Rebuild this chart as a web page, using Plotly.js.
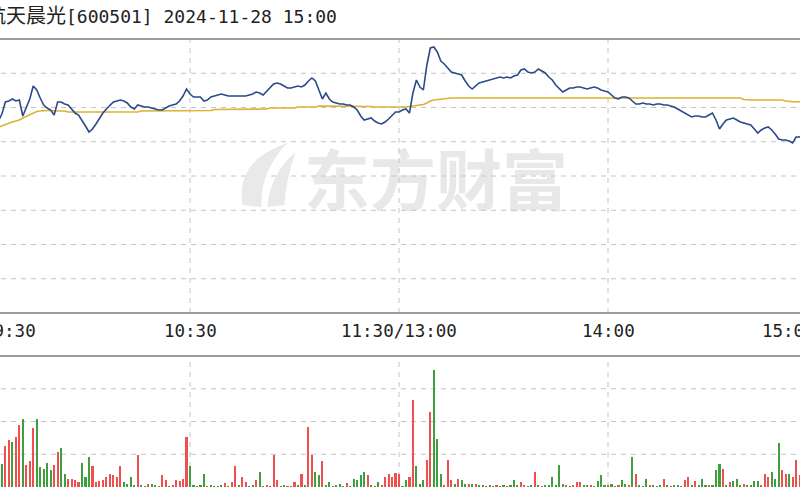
<!DOCTYPE html>
<html><head><meta charset="utf-8">
<script src="https://cdn.plot.ly/plotly-3.0.1.min.js"></script>
<style>
html,body{margin:0;padding:0;overflow:hidden;background:#fff;width:800px;height:500px;}
#chart{position:absolute;left:-19px;top:0;width:836px;height:500px;}
</style></head><body><div id="chart"></div>
<script>
// ---- data ----
const stockName = '航天晨光';
const stockCode = '600501';
const stampText = '2024-11-28 15:00';
const tickLabels = ['09:30', '10:30', '11:30/13:00', '14:00', '15:00'];
const tickMinutes = [0, 60, 120, 180, 240];
const gridMinutes = [60, 120, 180];
const priceRange = [9.37, 12.11];
const volRange = [0, 13100];

// last price per minute (09:30 .. 15:00, 241 points)
const price = [
11.15,11.20,11.22,11.26,11.28,11.29,11.36,11.48,11.49,11.51,
11.49,11.50,11.34,11.42,11.51,11.64,11.60,11.52,11.45,11.42,
11.40,11.35,11.48,11.48,11.46,11.45,11.41,11.37,11.35,11.30,
11.24,11.18,11.21,11.26,11.32,11.37,11.41,11.45,11.48,11.49,
11.50,11.49,11.47,11.43,11.41,11.45,11.44,11.43,11.43,11.42,
11.41,11.40,11.40,11.42,11.44,11.45,11.46,11.49,11.54,11.61,
11.56,11.53,11.53,11.53,11.49,11.50,11.53,11.54,11.55,11.56,
11.55,11.54,11.54,11.54,11.54,11.54,11.54,11.55,11.56,11.58,
11.57,11.55,11.59,11.62,11.66,11.67,11.66,11.64,11.62,11.62,
11.63,11.64,11.63,11.65,11.69,11.72,11.69,11.60,11.51,11.57,
11.51,11.48,11.47,11.46,11.46,11.45,11.45,11.43,11.40,11.34,
11.30,11.31,11.32,11.29,11.27,11.26,11.28,11.31,11.35,11.38,
11.38,11.40,11.41,11.37,11.57,11.70,11.63,11.60,11.85,12.02,
12.03,11.98,11.89,11.86,11.82,11.78,11.77,11.76,11.75,11.69,
11.64,11.61,11.64,11.67,11.68,11.69,11.70,11.71,11.72,11.73,
11.72,11.73,11.72,11.74,11.75,11.80,11.81,11.78,11.77,11.78,
11.81,11.79,11.77,11.73,11.70,11.65,11.61,11.58,11.60,11.62,
11.62,11.63,11.63,11.62,11.61,11.62,11.63,11.62,11.60,11.59,
11.58,11.55,11.52,11.51,11.53,11.53,11.52,11.49,11.46,11.46,
11.47,11.46,11.46,11.45,11.46,11.46,11.45,11.45,11.44,11.43,
11.41,11.39,11.37,11.35,11.33,11.34,11.34,11.33,11.33,11.35,
11.37,11.30,11.21,11.26,11.30,11.31,11.32,11.30,11.28,11.27,
11.26,11.25,11.21,11.17,11.20,11.22,11.23,11.20,11.16,11.11,
11.10,11.10,11.09,11.07,11.13,11.13,11.15,11.12,11.10,11.11,
11.11
];

// average price per minute
const avgPrice = [
11.15,11.17,11.19,11.205,11.215,11.225,11.24,11.255,11.27,11.28,
11.29,11.30,11.32,11.335,11.35,11.37,11.385,11.39,11.395,11.395,
11.395,11.39,11.39,11.39,11.39,11.38,11.38,11.38,11.38,11.38,
11.38,11.38,11.38,11.38,11.38,11.38,11.38,11.38,11.38,11.38,
11.38,11.38,11.38,11.38,11.38,11.38,11.39,11.39,11.39,11.39,
11.39,11.39,11.39,11.39,11.39,11.39,11.39,11.39,11.39,11.39,
11.39,11.395,11.395,11.395,11.395,11.395,11.395,11.405,11.405,11.405,
11.405,11.405,11.405,11.41,11.41,11.41,11.41,11.41,11.41,11.41,
11.41,11.41,11.41,11.42,11.42,11.42,11.42,11.42,11.42,11.42,
11.42,11.43,11.43,11.43,11.43,11.43,11.43,11.44,11.44,11.44,
11.44,11.44,11.44,11.44,11.44,11.435,11.435,11.435,11.435,11.435,
11.435,11.435,11.435,11.43,11.43,11.43,11.43,11.43,11.43,11.43,
11.43,11.425,11.43,11.435,11.44,11.445,11.45,11.455,11.47,11.49,
11.50,11.505,11.51,11.515,11.52,11.52,11.52,11.52,11.52,11.52,
11.52,11.52,11.52,11.52,11.52,11.52,11.525,11.525,11.525,11.525,
11.525,11.525,11.525,11.525,11.525,11.525,11.525,11.525,11.525,11.525,
11.525,11.525,11.525,11.525,11.525,11.525,11.525,11.525,11.525,11.525,
11.525,11.525,11.525,11.525,11.525,11.525,11.525,11.525,11.525,11.525,
11.525,11.525,11.525,11.525,11.525,11.525,11.525,11.525,11.525,11.525,
11.525,11.525,11.525,11.525,11.525,11.525,11.525,11.525,11.525,11.525,
11.52,11.52,11.52,11.52,11.52,11.52,11.52,11.52,11.52,11.52,
11.52,11.52,11.52,11.52,11.52,11.52,11.52,11.52,11.52,11.505,
11.50,11.50,11.50,11.50,11.50,11.50,11.50,11.50,11.50,11.50,
11.50,11.49,11.485,11.483,11.483,11.483,11.483,11.483,11.483,11.483,
11.483
];

// volume per minute (lots)
const volume = [
9000,5200,4400,3800,4600,3500,2300,4100,4700,4500,
5000,6200,6800,2200,2600,5900,6800,2000,1800,2400,
1700,2200,3500,3900,1300,800,800,700,500,2400,
1000,3000,2100,500,600,700,1000,1300,1200,1000,
2100,500,300,1000,200,3200,200,150,300,300,
200,150,1200,700,150,200,700,600,800,5000,
2100,200,150,200,1300,150,200,150,150,200,
400,150,500,2100,200,1000,500,150,200,700,
1500,150,200,150,3200,700,150,200,150,150,
500,200,1300,200,6000,3200,1500,1200,2600,200,
500,150,200,300,150,400,150,800,700,1200,
1500,1200,200,150,500,200,1000,1300,1000,1400,
1300,150,700,1000,8700,2100,300,700,2700,7500,
11700,4800,1300,200,2700,700,300,800,700,300,
350,300,300,250,170,150,170,150,170,150,
170,150,200,700,200,500,200,150,200,1500,
200,150,200,250,1000,200,2200,300,200,150,
200,500,500,200,250,200,150,600,1200,250,
200,300,150,250,700,350,200,3000,1300,200,
150,800,250,200,150,200,800,200,150,250,
200,150,700,1000,250,600,200,800,200,250,
200,1700,2300,1800,250,500,600,800,200,300,
250,200,600,600,200,1300,1000,1500,800,4400,
1700,1300,1300,1000,2700,1200,900,1100,700,500,
4500
];

// 1 = up (red), -1 = down (green)
const volDir = [
1,1,-1,1,-1,1,-1,1,1,-1,
1,1,-1,1,1,1,-1,-1,-1,-1,
-1,1,1,-1,-1,1,1,1,1,-1,
-1,-1,1,1,1,1,1,1,1,1,
1,-1,-1,-1,-1,1,-1,-1,1,-1,
-1,1,1,1,-1,1,1,1,1,1,
-1,-1,1,-1,-1,1,-1,-1,1,-1,
1,-1,1,1,-1,1,1,-1,-1,1,
-1,-1,1,1,1,1,-1,-1,1,-1,
1,-1,1,-1,1,1,-1,-1,1,-1,
-1,1,-1,-1,-1,1,-1,-1,-1,-1,
-1,1,-1,-1,-1,1,1,1,1,1,
1,-1,-1,1,1,-1,-1,-1,1,1,
-1,-1,-1,1,1,1,-1,1,-1,-1,
1,-1,1,-1,-1,1,-1,-1,1,-1,
-1,1,-1,-1,-1,1,1,-1,-1,1,
-1,1,-1,-1,-1,-1,-1,-1,1,-1,
1,1,1,-1,-1,1,-1,-1,-1,-1,
1,-1,-1,1,-1,-1,1,-1,1,-1,
-1,-1,1,-1,-1,-1,1,-1,1,-1,
-1,-1,1,1,-1,1,-1,-1,-1,1,
-1,-1,-1,1,-1,1,-1,-1,-1,1,
-1,-1,-1,-1,1,1,1,-1,-1,-1,
1,1,-1,1,1,1,-1,1,-1,-1,
1
];

// ---- styles ----
const UP = '#ee5050', DOWN = '#3f9f3f';
const GRID = '#c4c4c4';
const BORDER = '#9c9c9c';
const MONO = '"DejaVu Sans Mono", "Noto Sans CJK SC", monospace';
const DASH = '5px,5px';

const traces = [
  {type:'scatter', mode:'lines', y: avgPrice, xaxis:'x', yaxis:'y',
   line:{color:'#dcb234', width:1.6}, hoverinfo:'skip'},
  {type:'scatter', mode:'lines', y: price, xaxis:'x', yaxis:'y',
   line:{color:'#2a4a8a', width:1.6}, hoverinfo:'skip'},
  {type:'bar', y: volume, xaxis:'x', yaxis:'y2', width:0.6,
   marker:{color: volDir.map(d => d > 0 ? UP : DOWN), line:{width:0}}, hoverinfo:'skip'}
];

const annotations = tickLabels.map((t, i) => ({
  xref:'x', yref:'paper', x: tickMinutes[i], y: 0.339,
  xanchor: i === 0 ? 'left' : (i === tickLabels.length - 1 ? 'right' : 'center'),
  yanchor:'middle', text: t, showarrow:false,
  font:{family: MONO, size:17.5, color:'#222'}
}));
annotations.push({
  xref:'paper', yref:'paper', x: 0.003, y: 0.969, xanchor:'left', yanchor:'middle',
  text: '<span style="font-size:20px">' + stockName + '</span>[' + stockCode + '] ' + stampText,
  showarrow:false, font:{family: MONO, size:18, color:'#222'}
});
annotations.push({
  xref:'paper', yref:'paper', x: 0.544, y: 0.648, xanchor:'center', yanchor:'middle',
  text:'<b>东方财富</b>', showarrow:false,
  font:{family:'"Noto Sans CJK SC", sans-serif', size:66, color:'rgba(205,205,205,0.45)'}
});

function hline(yp) {
  return {type:'line', xref:'paper', yref:'paper', x0:0, x1:1, y0:yp, y1:yp,
          line:{color:BORDER, width:2}, layer:'above'};
}

// dashed grid, placed through the axes' own scales
const gridShapes = [];
gridMinutes.forEach(m => {
  ['y domain', 'y2 domain'].forEach(ref => {
    gridShapes.push({type:'line', xref:'x', yref:ref, x0:m, x1:m, y0:0, y1:1,
                     line:{color:GRID, width:1, dash:DASH}, layer:'below'});
  });
});
const pStep = (priceRange[1] - priceRange[0]) / 8;
for (let k = 1; k < 8; k++) {
  const v = priceRange[0] + k * pStep;
  gridShapes.push({type:'line', xref:'paper', yref:'y', x0:0, x1:1, y0:v, y1:v,
                   line:{color:GRID, width:1, dash:DASH}, layer:'below'});
}
const vStep = (volRange[1] - volRange[0]) / 4;
for (let k = 1; k < 4; k++) {
  const v = volRange[0] + k * vStep;
  gridShapes.push({type:'line', xref:'paper', yref:'y2', x0:0, x1:1, y0:v, y1:v,
                   line:{color:GRID, width:1, dash:DASH}, layer:'below'});
}

const axisCommon = {showticklabels:false, ticks:'', showgrid:false, zeroline:false,
                    showline:false, fixedrange:true};

const layout = {
  width: 836, height: 500,
  margin:{l:0, r:0, t:0, b:0, pad:0},
  paper_bgcolor:'#ffffff', plot_bgcolor:'#ffffff',
  showlegend:false, hovermode:false, bargap:0,
  xaxis:Object.assign({range:[0, 240], anchor:'y'}, axisCommon),
  yaxis:Object.assign({domain:[0.374, 0.922], range: priceRange, anchor:'x'}, axisCommon),
  yaxis2:Object.assign({domain:[0.026, 0.288], range: volRange, anchor:'x'}, axisCommon),
  annotations: annotations,
  shapes: gridShapes.concat([
    hline(0.922), hline(0.374), hline(0.288),
    {type:'path', xref:'paper', yref:'paper', layer:'below',
     path:'M 0.3128 0.59 Q 0.3044 0.68 0.3666 0.714 Q 0.3331 0.656 0.3355 0.586 Z',
     fillcolor:'#e9e9e9', line:{width:0}},
    {type:'path', xref:'paper', yref:'paper', layer:'below',
     path:'M 0.3427 0.586 Q 0.3451 0.65 0.3762 0.696 Q 0.3642 0.636 0.363 0.59 Z',
     fillcolor:'#e9e9e9', line:{width:0}}
  ])
};

Plotly.newPlot('chart', traces, layout, {staticPlot:true, displayModeBar:false});
</script></body></html>
